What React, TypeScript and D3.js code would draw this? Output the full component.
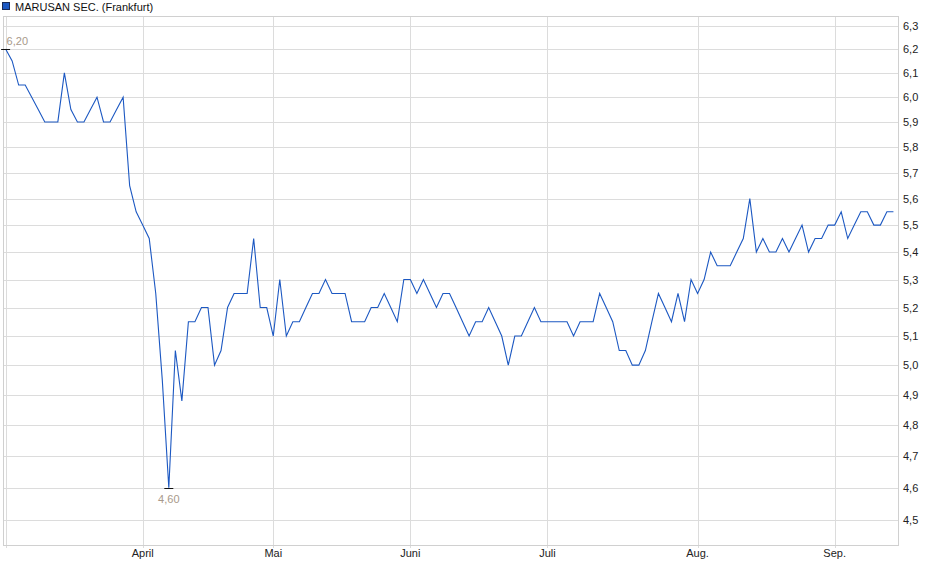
import { useEffect, useRef } from 'react';
import * as d3 from 'd3';

const title = 'MARUSAN SEC. (Frankfurt)';

// closing prices, one per trading day (Mar 3 .. Sep 12)
const prices = [
	6.2, 6.15, 6.05, 6.05, 6.0, 5.95, 5.9, 5.9, 5.9, 6.1,
	5.95, 5.9, 5.9, 5.95, 6.0, 5.9, 5.9, 5.95, 6.0, 5.65,
	5.55, 5.5, 5.45, 5.25, 4.95, 4.6, 5.05, 4.88, 5.15, 5.15,
	5.2, 5.2, 5.0, 5.05, 5.2, 5.25, 5.25, 5.25, 5.45, 5.2,
	5.2, 5.1, 5.3, 5.1, 5.15, 5.15, 5.2, 5.25, 5.25, 5.3,
	5.25, 5.25, 5.25, 5.15, 5.15, 5.15, 5.2, 5.2, 5.25, 5.2,
	5.15, 5.3, 5.3, 5.25, 5.3, 5.25, 5.2, 5.25, 5.25, 5.2,
	5.15, 5.1, 5.15, 5.15, 5.2, 5.15, 5.1, 5.0, 5.1, 5.1,
	5.15, 5.2, 5.15, 5.15, 5.15, 5.15, 5.15, 5.1, 5.15, 5.15,
	5.15, 5.25, 5.2, 5.15, 5.05, 5.05, 5.0, 5.0, 5.05, 5.15,
	5.25, 5.2, 5.15, 5.25, 5.15, 5.3, 5.25, 5.3, 5.4, 5.35,
	5.35, 5.35, 5.4, 5.45, 5.6, 5.4, 5.45, 5.4, 5.4, 5.45,
	5.4, 5.45, 5.5, 5.4, 5.45, 5.45, 5.5, 5.5, 5.55, 5.45,
	5.5, 5.55, 5.55, 5.5, 5.5, 5.55, 5.55,
];

// first trading day of each month (index into prices)
const monthStarts = [0, 21, 41, 62, 83, 106, 127];
const monthLabels = ['', 'April', 'Mai', 'Juni', 'Juli', 'Aug.', 'Sep.'];

const yTicks = [4.5, 4.6, 4.7, 4.8, 4.9, 5.0, 5.1, 5.2, 5.3, 5.4, 5.5, 5.6, 5.7, 5.8, 5.9, 6.0, 6.1, 6.2, 6.3];

export default function App() {
	const svgRef = useRef<SVGSVGElement>(null);

	const width = 940;
	const height = 579;
	const plot = { left: 3, right: 898, top: 16, bottom: 545 };
	const lineColor = '#1c58c2';
	const gridColor = '#dcdcdc';
	const font = '"Liberation Sans", Arial, sans-serif';

	useEffect(() => {
		if (!svgRef.current) return;
		const svg = d3.select(svgRef.current);
		svg.selectAll('*').remove();

		const xScale = d3
			.scaleLinear()
			.domain([-0.4, 136.7])
			.range([plot.left, plot.right]);

		const yScale = d3
			.scaleLog()
			.domain([4.424, 6.341])
			.range([plot.bottom, plot.top]);

		// horizontal grid
		svg.append('g')
			.selectAll('line')
			.data(yTicks)
			.enter()
			.append('line')
			.attr('x1', plot.left)
			.attr('x2', plot.right)
			.attr('y1', (d) => Math.round(yScale(d)) + 0.5)
			.attr('y2', (d) => Math.round(yScale(d)) + 0.5)
			.attr('stroke', gridColor);

		// vertical grid at month starts
		svg.append('g')
			.selectAll('line')
			.data(monthStarts)
			.enter()
			.append('line')
			.attr('x1', (d) => Math.round(xScale(d)) + 0.5)
			.attr('x2', (d) => Math.round(xScale(d)) + 0.5)
			.attr('y1', plot.top)
			.attr('y2', plot.bottom + 3)
			.attr('stroke', gridColor);

		// frame
		svg.append('rect')
			.attr('x', plot.left + 0.5)
			.attr('y', plot.top + 0.5)
			.attr('width', plot.right - plot.left)
			.attr('height', plot.bottom - plot.top)
			.attr('fill', 'none')
			.attr('stroke', '#d0d0d0');

		// y labels on the right
		svg.append('g')
			.selectAll('text')
			.data(yTicks)
			.enter()
			.append('text')
			.attr('x', plot.right + 5)
			.attr('y', (d) => yScale(d) + 4)
			.attr('font-family', font)
			.attr('font-size', 11)
			.attr('fill', '#222')
			.text((d) => d.toFixed(1).replace('.', ','));

		// month labels
		svg.append('g')
			.selectAll('text')
			.data(monthStarts)
			.enter()
			.append('text')
			.attr('x', (d) => xScale(d))
			.attr('y', plot.bottom + 12)
			.attr('text-anchor', 'middle')
			.attr('font-family', font)
			.attr('font-size', 11)
			.attr('fill', '#222')
			.text((_, i) => monthLabels[i]);

		const line = d3
			.line<number>()
			.x((_, i) => xScale(i))
			.y((d) => yScale(d));

		svg.append('path')
			.datum(prices)
			.attr('fill', 'none')
			.attr('stroke', lineColor)
			.attr('stroke-width', 1.1)
			.attr('d', line);

		// high / low markers
		const maxIdx = d3.maxIndex(prices);
		const minIdx = d3.minIndex(prices);
		const markers = [
			{ idx: maxIdx, dy: -5, anchor: 'start', dx: 1 },
			{ idx: minIdx, dy: 14, anchor: 'middle', dx: 0 },
		];
		markers.forEach((m) => {
			const cx = xScale(m.idx);
			const cy = Math.round(yScale(prices[m.idx])) + 0.5;
			svg.append('line')
				.attr('x1', cx - 4.5)
				.attr('x2', cx + 4.5)
				.attr('y1', cy)
				.attr('y2', cy)
				.attr('stroke', '#111')
				.attr('stroke-width', 1);
			svg.append('text')
				.attr('x', cx + m.dx)
				.attr('y', cy + m.dy)
				.attr('text-anchor', m.anchor)
				.attr('font-family', font)
				.attr('font-size', 11)
				.attr('fill', '#a8998a')
				.text(prices[m.idx].toFixed(2).replace('.', ','));
		});

		// legend / title
		svg.append('rect')
			.attr('x', 2.5)
			.attr('y', 2.5)
			.attr('width', 7)
			.attr('height', 7)
			.attr('fill', lineColor)
			.attr('stroke', '#1a2a55');
		svg.append('text')
			.attr('x', 15)
			.attr('y', 10.5)
			.attr('font-family', font)
			.attr('font-size', 11)
			.attr('fill', '#111')
			.text(title);
	}, []);

	return (
		<svg
			ref={svgRef}
			width={width}
			height={height}
			style={{ position: 'absolute', left: 0, top: 0, background: '#fff' }}
		/>
	);
}
